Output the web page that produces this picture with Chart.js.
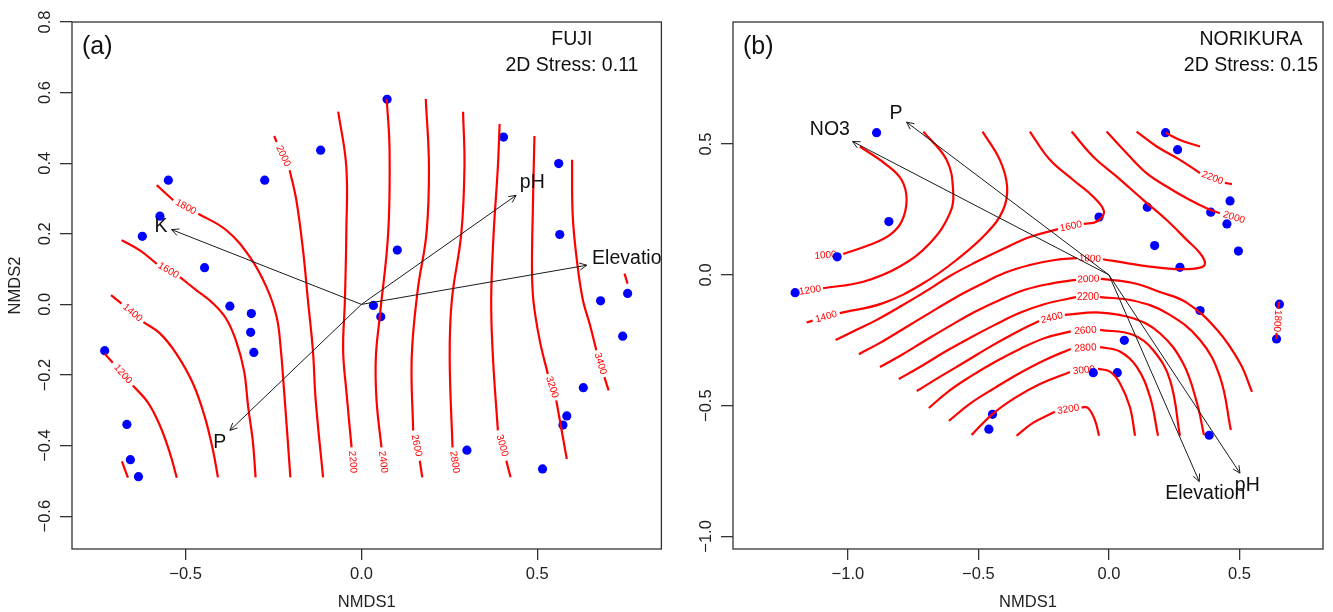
<!DOCTYPE html>
<html>
<head>
<meta charset="utf-8">
<title>NMDS Fuji / Norikura</title>
<script src="https://cdn.jsdelivr.net/npm/chart.js@4.4.0/dist/chart.umd.min.js"></script>
<style>
  body { margin: 0; background: #fff; }
  #wrap { position: relative; width: 1333px; height: 612px; }
  canvas { position: absolute; top: 0; }
</style>
</head>
<body>
<div id="wrap">
  <canvas id="fuji" width="666" height="612" style="left:0"></canvas>
  <canvas id="norikura" width="667" height="612" style="left:666px"></canvas>
</div>
<script>
var FONT = '"Liberation Sans", Arial, Helvetica, sans-serif';

// ---- Fuji: site scores, fitted vectors, elevation surface ----
var fujiSites = [
  [0.073, 0.581], [0.404, 0.474], [0.561, 0.399], [0.564, 0.198], [0.102, 0.154],
  [0.757, 0.031], [0.680, 0.010], [0.743, -0.090], [0.631, -0.236], [0.584, -0.316],
  [0.573, -0.342], [0.300, -0.413], [0.515, -0.466], [0.034, -0.003], [0.055, -0.035],
  [-0.116, 0.437], [-0.275, 0.352], [-0.549, 0.352], [-0.573, 0.250], [-0.623, 0.193],
  [-0.446, 0.104], [-0.374, -0.005], [-0.313, -0.026], [-0.315, -0.079], [-0.306, -0.136],
  [-0.730, -0.131], [-0.667, -0.340], [-0.657, -0.440], [-0.634, -0.488]
];
var fujiVectors = ['K', 'pH', 'Elevation', 'P'];
var fujiHeads = [[-0.540, 0.212], [0.440, 0.309], [0.641, 0.111], [-0.374, -0.357]];
var fujiVectorText = [[-0.570, 0.221], [0.486, 0.346], [0.770, 0.130], [-0.403, -0.391]];
var fujiLevels = [1000, 1200, 1400, 1600, 1800, 2000, 2200, 2400, 2600, 2800, 3000, 3200, 3400, 3600];
var fujiContours = [
  [[-0.681, -0.445], [-0.664, -0.491]],
  [[-0.730, -0.140], [-0.707, -0.165], null, [-0.650, -0.230], [-0.607, -0.278], [-0.573, -0.343], [-0.545, -0.420], [-0.525, -0.491]],
  [[-0.712, 0.026], [-0.682, 0.002], null, [-0.620, -0.050], [-0.573, -0.082], [-0.526, -0.140], [-0.479, -0.224], [-0.445, -0.320], [-0.422, -0.414], [-0.408, -0.490]],
  [[-0.682, 0.182], [-0.630, 0.153], [-0.582, 0.115], null, [-0.516, 0.077], [-0.469, 0.040], [-0.422, 0.003], [-0.385, -0.040], [-0.357, -0.102], [-0.334, -0.187], [-0.322, -0.291], [-0.309, -0.386], [-0.301, -0.490]],
  [[-0.582, 0.338], [-0.535, 0.295], null, [-0.464, 0.257], [-0.384, 0.210], [-0.317, 0.134], [-0.270, 0.049], [-0.241, -0.036], [-0.229, -0.130], [-0.221, -0.230], [-0.213, -0.338], [-0.202, -0.490]],
  [[-0.248, 0.477], [-0.241, 0.460], null, [-0.204, 0.380], [-0.185, 0.295], [-0.166, 0.153], [-0.152, 0.011], [-0.138, -0.130], [-0.130, -0.272], [-0.109, -0.490]],
  [[-0.066, 0.546], [-0.043, 0.390], [-0.043, 0.201], [-0.047, 0.011], [-0.052, -0.130], [-0.043, -0.244], [-0.028, -0.405], null, [-0.022, -0.488]],
  [[0.072, 0.582], [0.080, 0.437], [0.076, 0.201], [0.052, -0.036], [0.041, -0.150], [0.043, -0.272], [0.057, -0.405], null, [0.066, -0.488]],
  [[0.183, 0.582], [0.192, 0.390], [0.185, 0.201], [0.160, 0.040], [0.143, -0.150], [0.147, -0.357], null, [0.166, -0.443], [0.173, -0.490]],
  [[0.289, 0.546], [0.293, 0.390], [0.284, 0.201], [0.257, 0.011], [0.251, -0.150], [0.259, -0.405], null, [0.271, -0.488]],
  [[0.393, 0.511], [0.388, 0.390], [0.376, 0.201], [0.369, 0.011], [0.374, -0.150], [0.388, -0.357], null, [0.412, -0.443], [0.424, -0.490]],
  [[0.492, 0.477], [0.488, 0.295], [0.485, 0.106], [0.489, 0.011], [0.507, -0.102], [0.530, -0.197], null, [0.554, -0.272], [0.584, -0.438]],
  [[0.599, 0.410], [0.601, 0.248], [0.615, 0.106], [0.630, 0.011], [0.649, -0.055], [0.668, -0.130], null, [0.691, -0.206], [0.703, -0.244]],
  [[0.748, 0.087], [0.757, 0.059]]
];

// ---- Norikura ----
var norikuraSites = [
  [-0.890, 0.544], [-0.843, 0.204], [-1.041, 0.069], [-1.202, -0.068], [0.217, 0.544],
  [0.263, 0.479], [0.464, 0.283], [0.390, 0.240], [0.452, 0.195], [0.496, 0.091],
  [0.147, 0.259], [-0.038, 0.221], [0.175, 0.112], [0.272, 0.029], [0.349, -0.136],
  [0.653, -0.112], [0.642, -0.245], [0.059, -0.250], [-0.060, -0.374], [0.032, -0.374],
  [0.384, -0.613], [-0.446, -0.533], [-0.460, -0.590]
];
var norikuraVectors = ['NO3', 'P', 'Elevation', 'pH'];
var norikuraHeads = [[-0.982, 0.510], [-0.775, 0.584], [0.346, -0.790], [0.502, -0.758]];
var norikuraVectorText = [[-1.069, 0.555], [-0.816, 0.616], [0.369, -0.835], [0.530, -0.807]];
var norikuraLevels = [1000, 1200, 1400, 1600, 1800, 1800, 2000, 2000, 2200, 2200, 2400, 2400, 2600, 2800, 3000, 3200];
var norikuraContours = [
  [[-0.954, 0.491], [-0.852, 0.421], [-0.794, 0.363], [-0.775, 0.287], [-0.794, 0.204], [-0.839, 0.153], [-0.916, 0.115], [-1.018, 0.080], null, [-1.153, 0.069]],
  [[-0.711, 0.548], [-0.622, 0.440], [-0.597, 0.325], [-0.609, 0.236], [-0.686, 0.121], [-0.801, 0.032], [-0.941, -0.026], [-1.095, -0.051], null, [-1.195, -0.067]],
  [[-0.484, 0.548], [-0.418, 0.440], [-0.390, 0.338], [-0.405, 0.249], [-0.469, 0.159], [-0.584, 0.057], [-0.711, -0.032], [-0.865, -0.108], [-1.031, -0.146], null, [-1.135, -0.175], [-1.158, -0.182]],
  [[-0.303, 0.548], [-0.226, 0.440], [-0.137, 0.363], [-0.060, 0.299], [-0.019, 0.242], [-0.047, 0.204], [-0.096, 0.195], null, [-0.195, 0.175], [-0.303, 0.145], [-0.406, 0.099], [-0.507, 0.050], [-0.609, -0.004], [-0.705, -0.065], [-0.801, -0.122], [-0.889, -0.172], [-0.967, -0.210], [-1.047, -0.249]],
  [[-0.143, 0.548], [-0.060, 0.452], [0.030, 0.376], [0.131, 0.287], [0.221, 0.210], [0.298, 0.134], [0.349, 0.083], [0.368, 0.045], [0.349, 0.028], [0.272, 0.022], [0.157, 0.032], [0.068, 0.045], [-0.023, 0.060], null, [-0.123, 0.064], [-0.207, 0.057], [-0.303, 0.038], [-0.398, 0.008], [-0.494, -0.038], [-0.590, -0.088], [-0.686, -0.145], [-0.782, -0.203], [-0.877, -0.260], [-0.958, -0.303]],
  [[0.652, -0.103], [0.648, -0.130], null, [0.642, -0.222], [0.643, -0.245]],
  [[-0.009, 0.548], [0.068, 0.465], [0.144, 0.389], [0.221, 0.338], [0.298, 0.293], [0.374, 0.255], [0.425, 0.236], null, [0.533, 0.203]],
  [[-0.877, -0.352], [-0.801, -0.310], [-0.705, -0.252], [-0.609, -0.195], [-0.513, -0.141], [-0.418, -0.096], [-0.322, -0.057], [-0.226, -0.034], [-0.126, -0.019], null, [-0.031, -0.015], [0.092, -0.031], [0.195, -0.065], [0.299, -0.107], [0.414, -0.210], [0.502, -0.337], [0.548, -0.447]],
  [[0.106, 0.548], [0.183, 0.491], [0.272, 0.440], [0.349, 0.389], null, [0.444, 0.352], [0.471, 0.347]],
  [[-0.805, -0.398], [-0.724, -0.352], [-0.628, -0.294], [-0.533, -0.241], [-0.437, -0.191], [-0.341, -0.145], [-0.245, -0.111], [-0.126, -0.085], null, [-0.034, -0.085], [0.092, -0.098], [0.222, -0.146], [0.349, -0.249], [0.425, -0.389], [0.467, -0.593]],
  [[0.217, 0.544], [0.272, 0.516], [0.349, 0.491]],
  [[-0.736, -0.444], [-0.648, -0.390], [-0.552, -0.333], [-0.456, -0.275], [-0.360, -0.222], [-0.268, -0.176], null, [-0.169, -0.153], [-0.034, -0.144], [0.092, -0.166], [0.195, -0.223], [0.284, -0.338], [0.337, -0.489], [0.364, -0.612]],
  [[-0.690, -0.509], [-0.617, -0.447], [-0.533, -0.390], [-0.437, -0.333], [-0.341, -0.283], [-0.245, -0.241], [-0.146, -0.216], null, [-0.034, -0.210], [0.092, -0.229], [0.169, -0.287], [0.234, -0.402], [0.272, -0.615]],
  [[-0.613, -0.558], [-0.533, -0.493], [-0.437, -0.432], [-0.341, -0.375], [-0.245, -0.325], [-0.146, -0.283], null, [-0.034, -0.276], [0.042, -0.293], [0.106, -0.351], [0.157, -0.465], [0.188, -0.615]],
  [[-0.526, -0.612], [-0.446, -0.532], [-0.360, -0.470], [-0.264, -0.417], [-0.149, -0.371], null, [-0.042, -0.359], [0.004, -0.370], [0.042, -0.414], [0.080, -0.504], [0.100, -0.615]],
  [[-0.354, -0.615], [-0.291, -0.566], [-0.207, -0.523], null, [-0.105, -0.506], [-0.080, -0.509], [-0.054, -0.554], [-0.038, -0.615]]
];

function toXY(p) {
  return p ? { x: p[0], y: p[1] } : { x: null, y: null };
}

function fmt(v) {
  return (v < -1e-9 ? '\u2212' : '') + Math.abs(v).toFixed(1);
}

function buildDatasets(sites, vectors, heads, vtext, levels, contours) {
  var ds = [];
  for (var i = 0; i < vectors.length; i++) {
    ds.push({
      data: [{ x: 0, y: 0 }, toXY(heads[i])],
      showLine: true, borderColor: '#1a1a1a', borderWidth: 1,
      pointRadius: 0, order: 1,
      arrowText: vectors[i], textAt: vtext[i]
    });
  }
  for (var j = 0; j < contours.length; j++) {
    ds.push({
      data: contours[j].map(toXY),
      showLine: true, borderColor: '#ff0000', borderWidth: 2.2,
      pointRadius: 0, tension: 0.4, order: 2,
      level: levels[j]
    });
  }
  ds.push({
    data: sites.map(toXY),
    showLine: false, pointRadius: 4.6,
    pointBackgroundColor: '#0000ff', pointBorderColor: '#0000ff', pointBorderWidth: 0,
    order: 3
  });
  return ds;
}

function clipArea(ctx, a) {
  ctx.beginPath();
  ctx.rect(a.left, a.top, a.right - a.left, a.bottom - a.top);
  ctx.clip();
}

// level numbers written into the breaks of each contour line
var contourLabels = {
  id: 'contourLabels',
  beforeDatasetsDraw: function (chart) {
    var ctx = chart.ctx;
    ctx.save();
    clipArea(ctx, chart.chartArea);
    ctx.font = '10px ' + FONT;
    ctx.fillStyle = '#ff0000';
    ctx.textAlign = 'center';
    ctx.textBaseline = 'middle';
    chart.data.datasets.forEach(function (ds, i) {
      if (ds.level === undefined) return;
      var pts = chart.getDatasetMeta(i).data;
      for (var k = 1; k < pts.length - 1; k++) {
        if (!pts[k].skip) continue;
        var p = pts[k - 1], q = pts[k + 1];
        var ang = Math.atan2(q.y - p.y, q.x - p.x);
        if (ang > Math.PI * 0.56) ang -= Math.PI;
        if (ang < -Math.PI * 0.44) ang += Math.PI;
        ctx.save();
        ctx.translate((p.x + q.x) / 2, (p.y + q.y) / 2);
        ctx.rotate(ang);
        ctx.fillText(String(ds.level), 0, 0);
        ctx.restore();
      }
    });
    ctx.restore();
  }
};

// arrow heads and names of the fitted environmental vectors
var vectorArrows = {
  id: 'vectorArrows',
  afterDatasetsDraw: function (chart) {
    var ctx = chart.ctx, sx = chart.scales.x, sy = chart.scales.y;
    ctx.save();
    clipArea(ctx, chart.chartArea);
    chart.data.datasets.forEach(function (ds, i) {
      if (!ds.arrowText) return;
      var pts = chart.getDatasetMeta(i).data;
      var o = pts[0], h = pts[1];
      var ang = Math.atan2(h.y - o.y, h.x - o.x);
      var len = 8, spread = 0.45;
      ctx.strokeStyle = '#1a1a1a';
      ctx.lineWidth = 1;
      ctx.beginPath();
      ctx.moveTo(h.x - len * Math.cos(ang - spread), h.y - len * Math.sin(ang - spread));
      ctx.lineTo(h.x, h.y);
      ctx.lineTo(h.x - len * Math.cos(ang + spread), h.y - len * Math.sin(ang + spread));
      ctx.stroke();
      ctx.fillStyle = '#111';
      ctx.font = '19.5px ' + FONT;
      ctx.textAlign = 'center';
      ctx.textBaseline = 'middle';
      ctx.fillText(ds.arrowText, sx.getPixelForValue(ds.textAt[0]), sy.getPixelForValue(ds.textAt[1]));
    });
    ctx.restore();
  }
};

// box around the plot plus panel letter and stress note
var panelFrame = {
  id: 'panelFrame',
  afterDraw: function (chart, args, opts) {
    var ctx = chart.ctx, a = chart.chartArea;
    ctx.save();
    ctx.strokeStyle = '#333';
    ctx.lineWidth = 1.3;
    ctx.strokeRect(a.left, a.top, a.right - a.left, a.bottom - a.top);
    ctx.fillStyle = '#111';
    ctx.textBaseline = 'middle';
    ctx.font = '25px ' + FONT;
    ctx.textAlign = 'left';
    ctx.fillText(opts.tag, a.left + 10, a.top + 25);
    ctx.font = '19.5px ' + FONT;
    ctx.textAlign = 'center';
    ctx.fillText(opts.site, a.right - opts.noteDx, a.top + 18);
    ctx.fillText(opts.stress, a.right - opts.noteDx, a.top + 44);
    ctx.restore();
  }
};

function axes(xr, yr, yStep, yWidth, showYTitle) {
  var tickFont = { family: FONT, size: 16.5 };
  return {
    x: {
      type: 'linear', min: xr[0], max: xr[1],
      afterFit: function (s) { s.height = 63; },
      ticks: { stepSize: 0.5, includeBounds: false, autoSkip: false, padding: 5, color: '#222', font: tickFont, callback: fmt },
      grid: { drawOnChartArea: false, tickLength: 11, color: '#333', lineWidth: 1.3 },
      border: { display: false },
      title: { display: true, text: 'NMDS1', color: '#222', font: tickFont, padding: { top: 0, bottom: 0 } }
    },
    y: {
      type: 'linear', min: yr[0], max: yr[1],
      afterFit: function (s) { s.width = yWidth; },
      ticks: { stepSize: yStep, includeBounds: false, autoSkip: false, minRotation: 90, maxRotation: 90, crossAlign: 'center', padding: -2, color: '#222', font: tickFont, callback: fmt },
      grid: { drawOnChartArea: false, tickLength: 12, color: '#333', lineWidth: 1.3 },
      border: { display: false },
      title: { display: showYTitle, text: 'NMDS2', color: '#222', font: tickFont, padding: { top: 6, bottom: 0 } }
    }
  };
}

function makePanel(id, datasets, scales, padRight, frameOpts) {
  return new Chart(document.getElementById(id), {
    type: 'scatter',
    data: { datasets: datasets },
    options: {
      responsive: false,
      animation: false,
      events: [],
      layout: { padding: { left: 0, top: 22, right: padRight, bottom: 0 } },
      scales: scales,
      plugins: {
        legend: { display: false },
        tooltip: { enabled: false },
        panelFrame: frameOpts
      }
    },
    plugins: [contourLabels, vectorArrows, panelFrame]
  });
}

makePanel('fuji',
  buildDatasets(fujiSites, fujiVectors, fujiHeads, fujiVectorText, fujiLevels, fujiContours),
  axes([-0.823, 0.853], [-0.693, 0.8001], 0.2, 72, true),
  4,
  { tag: '(a)', site: 'FUJI', stress: '2D Stress: 0.11', noteDx: 89.5 });

makePanel('norikura',
  buildDatasets(norikuraSites, norikuraVectors, norikuraHeads, norikuraVectorText, norikuraLevels, norikuraContours),
  axes([-1.44, 0.82], [-1.048, 0.967], 0.5, 67, false),
  10,
  { tag: '(b)', site: 'NORIKURA', stress: '2D Stress: 0.15', noteDx: 72 });
</script>
</body>
</html>
